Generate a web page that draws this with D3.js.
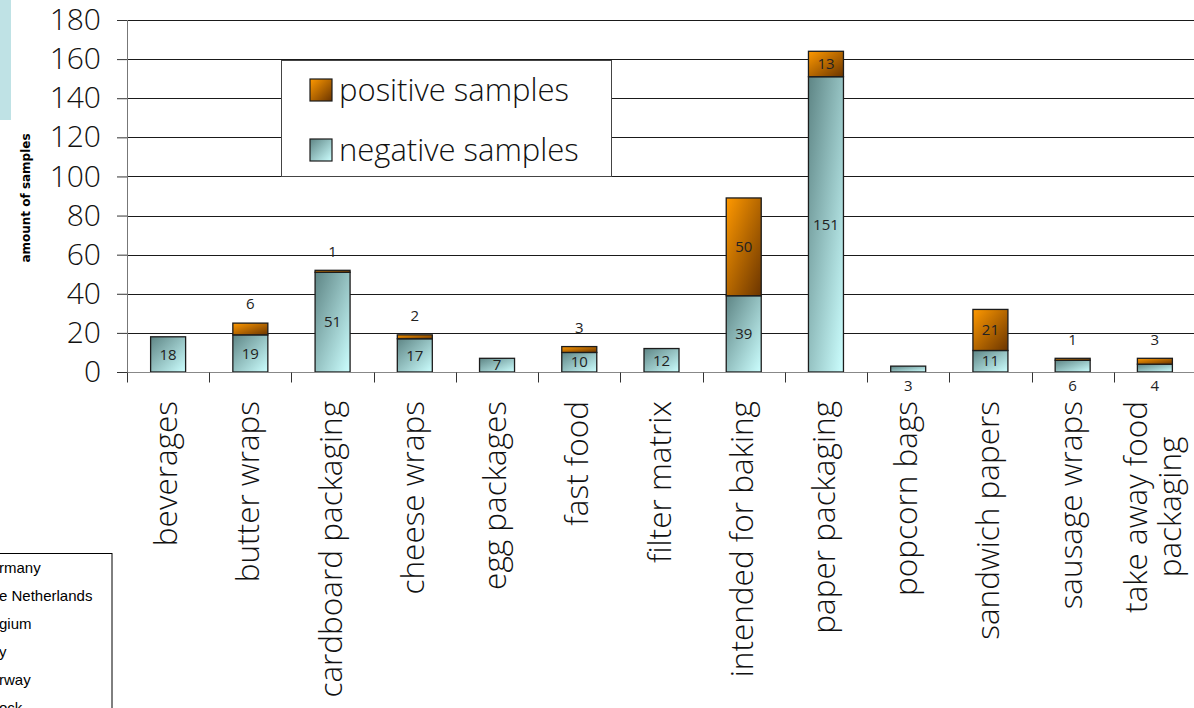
<!DOCTYPE html>
<html>
<head>
<meta charset="utf-8">
<script src="https://cdn.jsdelivr.net/npm/d3@7"></script>
<style>
  body { margin: 0; background: #fff; }
  svg { display: block; overflow: hidden; }
</style>
</head>
<body>
<svg id="drawing_region"></svg>
<script>
const categories = ['beverages', 'butter wraps', 'cardboard packaging', 'cheese wraps', 'egg packages',
    'fast food', 'filter matrix', 'intended for baking', 'paper packaging', 'popcorn bags',
    'sandwich papers', 'sausage wraps', 'take away food packaging'];
const categoryLines = [['beverages'], ['butter wraps'], ['cardboard packaging'], ['cheese wraps'], ['egg packages'],
    ['fast food'], ['filter matrix'], ['intended for baking'], ['paper packaging'], ['popcorn bags'],
    ['sandwich papers'], ['sausage wraps'], ['take away food', 'packaging']];
const negative = [18, 19, 51, 17, 7, 10, 12, 39, 151, 3, 11, 6, 4];
const positive = [0, 6, 1, 2, 0, 3, 0, 50, 13, 0, 21, 1, 3];
const yTicks = [0, 20, 40, 60, 80, 100, 120, 140, 160, 180];
const seriesNames = ['positive samples', 'negative samples'];
// leftovers of a neighbouring chart that show at the edge of the picture
const strayLegend = ['rmany', 'e Netherlands', 'gium', 'y', 'rway', 'ock'];

const data = categories.map((c, i) => ({ category: c, lines: categoryLines[i], negative: negative[i], positive: positive[i] }));

class StackedBarChart {

    constructor( config, data ) {
        this.config = {
            parent: config.parent,
            width: config.width || 1194,
            height: config.height || 708,
            left: config.left || 127,
            right: config.right || 1196,
            top: config.top || 20,
            bottom: config.bottom || 372,
            ylabel: config.ylabel || ''
        };
        this.data = data;
        this.init();
    }

    init() {
        let self = this;
        self.font = "'Open Sans', 'DejaVu Sans', sans-serif";
        self.weight = 350;

        self.svg = d3.select( self.config.parent )
            .attr('width', self.config.width)
            .attr('height', self.config.height);

        const defs = self.svg.append('defs');
        const grad = (id, c0, c1) => {
            const g = defs.append('linearGradient').attr('id', id)
                .attr('x1', 0).attr('y1', 0).attr('x2', 1).attr('y2', 1);
            g.append('stop').attr('offset', '0%').attr('stop-color', c0);
            g.append('stop').attr('offset', '100%').attr('stop-color', c1);
        };
        grad('grad-neg', '#5e8585', '#ccffff');
        grad('grad-pos', '#ff9900', '#6b3500');

        // stray bits of other figures
        self.svg.append('rect')
            .attr('x', 0).attr('y', 0).attr('width', 11).attr('height', 120)
            .attr('fill', '#bfe2e5');
        self.svg.append('rect')
            .attr('x', -10).attr('y', 553.5).attr('width', 122).attr('height', 200)
            .attr('fill', '#fff').attr('stroke', '#000').attr('stroke-width', 1);
        self.svg.selectAll('.stray')
            .data(strayLegend)
            .enter().append('text')
            .attr('class', 'stray')
            .attr('x', -1)
            .attr('y', (d, i) => 573 + i * 28)
            .style('font-family', "'Liberation Sans', Arial, sans-serif")
            .style('font-size', '15px')
            .attr('fill', '#000')
            .text(d => d);

        self.xscale = d3.scaleBand()
            .domain( self.data.map(d => d.category) )
            .range( [self.config.left, self.config.right] )
            .padding(0);

        self.yscale = d3.scaleLinear()
            .domain( [0, 180] )
            .range( [self.config.bottom, self.config.top] );

        self.grid_group = self.svg.append('g');
        self.bar_group = self.svg.append('g');
        self.label_group = self.svg.append('g');
        self.yaxis_group = self.svg.append('g')
            .attr('transform', `translate(${self.config.left}, 0)`);
        self.xaxis_group = self.svg.append('g');
        self.legend_group = self.svg.append('g');

        // Y軸ラベル
        self.svg.append('text')
            .attr('text-anchor', 'middle')
            .attr('transform', `translate(30, 198) rotate(-90)`)
            .style('font-family', "'DejaVu Sans', Verdana, sans-serif")
            .style('font-weight', 'bold')
            .style('font-size', '12px')
            .attr('fill', '#000')
            .text(self.config.ylabel);
    }

    update() {
        let self = this;
        self.stacked = d3.stack().keys(['negative', 'positive'])( self.data );
        self.render();
    }

    render() {
        let self = this;
        const bw = 35;
        const xc = d => self.xscale(d.data.category) + self.xscale.bandwidth() / 2;

        // gridlines
        self.grid_group.selectAll('line')
            .data(yTicks.filter(t => t > 0))
            .enter().append('line')
            .attr('x1', self.config.left).attr('x2', self.config.right)
            .attr('y1', d => Math.round(self.yscale(d)) + 0.5)
            .attr('y2', d => Math.round(self.yscale(d)) + 0.5)
            .attr('stroke', '#1a1a1a').attr('stroke-width', 1);

        // bars
        const fills = { negative: 'url(#grad-neg)', positive: 'url(#grad-pos)' };
        self.stacked.forEach(layer => {
            self.bar_group.selectAll(null)
                .data(layer.filter(d => d[1] > d[0]))
                .enter().append('rect')
                .attr('x', d => xc(d) - bw / 2)
                .attr('y', d => self.yscale(d[1]))
                .attr('width', bw)
                .attr('height', d => self.yscale(d[0]) - self.yscale(d[1]))
                .attr('fill', fills[layer.key])
                .attr('stroke', '#1c1c1c')
                .attr('stroke-width', 1.3);
        });

        // value labels
        self.stacked.forEach(layer => {
            self.label_group.selectAll(null)
                .data(layer.filter(d => d[1] > d[0]))
                .enter().append('text')
                .attr('x', d => xc(d))
                .attr('y', d => {
                    const h = self.yscale(d[0]) - self.yscale(d[1]);
                    if (h >= 13) return (self.yscale(d[0]) + self.yscale(d[1])) / 2;
                    if (layer.key === 'negative') return self.config.bottom + 14;
                    return self.yscale(d.data.negative + d.data.positive) - 19;
                })
                .attr('dy', '0.35em')
                .attr('text-anchor', 'middle')
                .style('font-family', self.font)
                .style('font-size', '15px')
                .attr('fill', '#222')
                .text(d => d[1] - d[0]);
        });

        // y axis
        self.yaxis = d3.axisLeft( self.yscale )
            .tickValues( yTicks )
            .tickSize(10)
            .tickSizeOuter(0)
            .tickPadding(16);
        self.yaxis_group.call( self.yaxis );
        self.yaxis_group.select('.domain').remove();
        self.yaxis_group.selectAll('.tick line').attr('stroke', '#333');
        self.yaxis_group.selectAll('.tick text')
            .style('font-family', self.font)
            .style('font-size', '30px')
            .style('font-weight', self.weight)
            .attr('fill', '#111');
        self.yaxis_group.append('line')
            .attr('x1', 0.5).attr('x2', 0.5)
            .attr('y1', self.config.top).attr('y2', self.config.bottom + 10)
            .attr('stroke', '#777');

        // x axis
        const x0 = self.config.bottom + 0.5;
        self.xaxis_group.append('line')
            .attr('x1', self.config.left).attr('x2', self.config.right)
            .attr('y1', x0).attr('y2', x0)
            .attr('stroke', '#888');
        const edges = self.data.map(d => self.xscale(d.category)).concat([self.config.right]);
        self.xaxis_group.selectAll('.xtick')
            .data(edges)
            .enter().append('line')
            .attr('class', 'xtick')
            .attr('x1', d => Math.round(d) + 0.5).attr('x2', d => Math.round(d) + 0.5)
            .attr('y1', x0).attr('y2', x0 + 10)
            .attr('stroke', '#333');

        // category labels
        const cat = self.xaxis_group.selectAll('.cat')
            .data(self.data)
            .enter().append('text')
            .attr('class', 'cat')
            .attr('text-anchor', 'middle')
            .style('font-family', self.font)
            .style('font-size', '31.5px')
            .style('font-weight', self.weight)
            .attr('fill', '#111');
        cat.each(function(d) {
            const t = d3.select(this);
            const n = d.lines.length;
            d.lines.forEach((l, i) => {
                t.append('tspan')
                    .attr('x', 0)
                    .attr('y', 9 + (i - (n - 1) / 2) * 34)
                    .text(l);
            });
            let maxLen = 0;
            t.selectAll('tspan').each(function() {
                maxLen = Math.max(maxLen, this.getComputedTextLength());
            });
            const cx = self.xscale(d.category) + self.xscale.bandwidth() / 2;
            t.attr('transform', `translate(${cx}, ${self.config.bottom + 29 + maxLen / 2}) rotate(-90)`);
        });

        // legend
        const lg = self.legend_group.attr('transform', 'translate(281, 60)');
        lg.append('rect')
            .attr('x', 0.5).attr('y', 0.5).attr('width', 330).attr('height', 116)
            .attr('fill', '#fff').attr('stroke', '#444').attr('stroke-width', 1);
        const items = [
            { name: seriesNames[0], fill: 'url(#grad-pos)' },
            { name: seriesNames[1], fill: 'url(#grad-neg)' }
        ];
        const it = lg.selectAll('.item')
            .data(items)
            .enter().append('g')
            .attr('transform', (d, i) => `translate(29, ${19 + i * 60})`);
        it.append('rect')
            .attr('width', 22).attr('height', 22)
            .attr('fill', d => d.fill)
            .attr('stroke', '#1c1c1c').attr('stroke-width', 1.2);
        it.append('text')
            .attr('x', 29).attr('y', 11)
            .attr('dy', '0.35em')
            .style('font-family', self.font)
            .style('font-size', '31px')
            .style('font-weight', self.weight)
            .attr('fill', '#111')
            .text(d => d.name);
    }
}

const chart = new StackedBarChart({
    parent: '#drawing_region',
    width: 1194,
    height: 708,
    left: 127,
    right: 1196,
    top: 20,
    bottom: 372,
    ylabel: 'amount of samples'
}, data);
chart.update();
</script>
</body>
</html>
